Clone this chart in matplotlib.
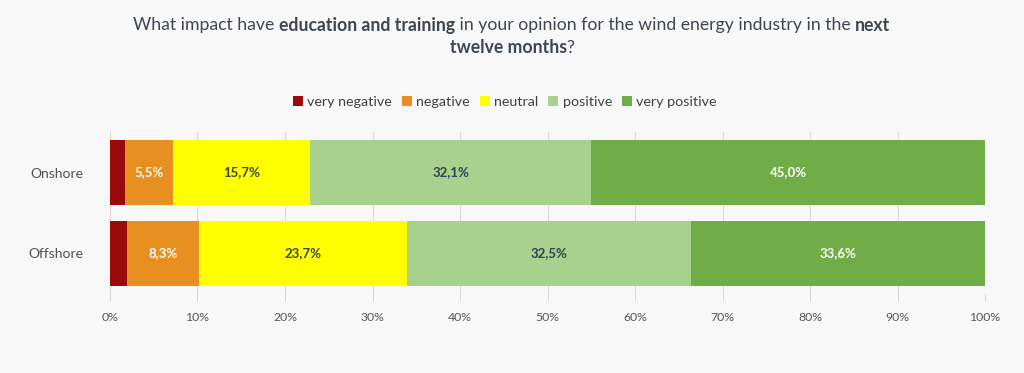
import matplotlib
matplotlib.use('Agg')
from matplotlib import pyplot as plt
import numpy as np

plt.rcParams['font.family'] = ['Lato', 'DejaVu Sans']

# data
categories = ['Onshore', 'Offshore']
series_names = ['very negative', 'negative', 'neutral', 'positive', 'very positive']
very_negative = [1.7, 1.9]
negative = [5.5, 8.3]
neutral = [15.7, 23.7]
positive = [32.1, 32.5]
very_positive = [45.0, 33.6]
values = [very_negative, negative, neutral, positive, very_positive]
xticks = [0, 10, 20, 30, 40, 50, 60, 70, 80, 90, 100]

colors = ['#9a0a0a', '#e8901f', '#ffff00', '#a9d18e', '#70ad47']
label_colors = [None, '#ffffff', '#3a4a20', '#2f4050', '#ffffff']

fig = plt.figure(figsize=(10.24, 3.73), dpi=100)
fig.patch.set_facecolor('#f8f8f8')
ax = fig.add_axes([0.1074, 0.212, 0.8546, 0.434])
ax.set_facecolor('none')

y = np.arange(len(categories))
left = np.zeros(len(categories))
for name, vals, c, lc in zip(series_names, values, colors, label_colors):
    vals = np.array(vals)
    ax.barh(y, vals, left=left, height=0.8, color=c, label=name, zorder=3)
    if lc is not None:
        for yi, (l, v) in enumerate(zip(left, vals)):
            ax.text(l + v / 2, yi, f'{v:.1f}%'.replace('.', ','), ha='center', va='center',
                    color=lc, fontsize=9.5, fontweight='bold', zorder=4)
    left += vals

ax.set_xlim(0, 100)
ax.set_ylim(1.5, -0.5)
ax.set_yticks(y)
ax.set_yticklabels(categories, fontsize=10, color='#505050')
ax.set_xticks(xticks)
ax.set_xticklabels([f'{t}%' for t in xticks], fontsize=8.8, color='#555555')
ax.tick_params(axis='y', length=0, pad=19)
ax.tick_params(axis='x', length=5, color='#d9d9d9', pad=8)
ax.grid(axis='x', color='#d9d9d9', linewidth=0.8, zorder=0)
for s in ax.spines.values():
    s.set_visible(False)

# legend
leg = fig.legend(loc='center', bbox_to_anchor=(0.493, 0.727), ncol=5, frameon=False,
                 fontsize=10.3, handlelength=0.7, handleheight=0.7, handletextpad=0.3,
                 columnspacing=0.7)
for t in leg.get_texts():
    t.set_color('#404040')

# title with bold pieces
title_lines = [
    [('What impact have ', 'normal'), ('education and training', 'bold'),
     (' in your opinion for the wind energy industry in the ', 'normal'), ('next', 'bold')],
    [('twelve months', 'bold'), ('?', 'normal')],
]
title_y = [0.932, 0.872]
renderer = fig.canvas.get_renderer()
for parts, ty in zip(title_lines, title_y):
    texts = []
    for s, w in parts:
        t = fig.text(0, ty, s, fontsize=12.7, fontweight=w, color='#3d4651', va='center')
        texts.append(t)
    widths = [t.get_window_extent(renderer).width / fig.bbox.width for t in texts]
    x0 = 0.5 - sum(widths) / 2
    for t, wd in zip(texts, widths):
        t.set_x(x0)
        x0 += wd

fig.savefig('out.png', dpi=100, facecolor=fig.get_facecolor())
